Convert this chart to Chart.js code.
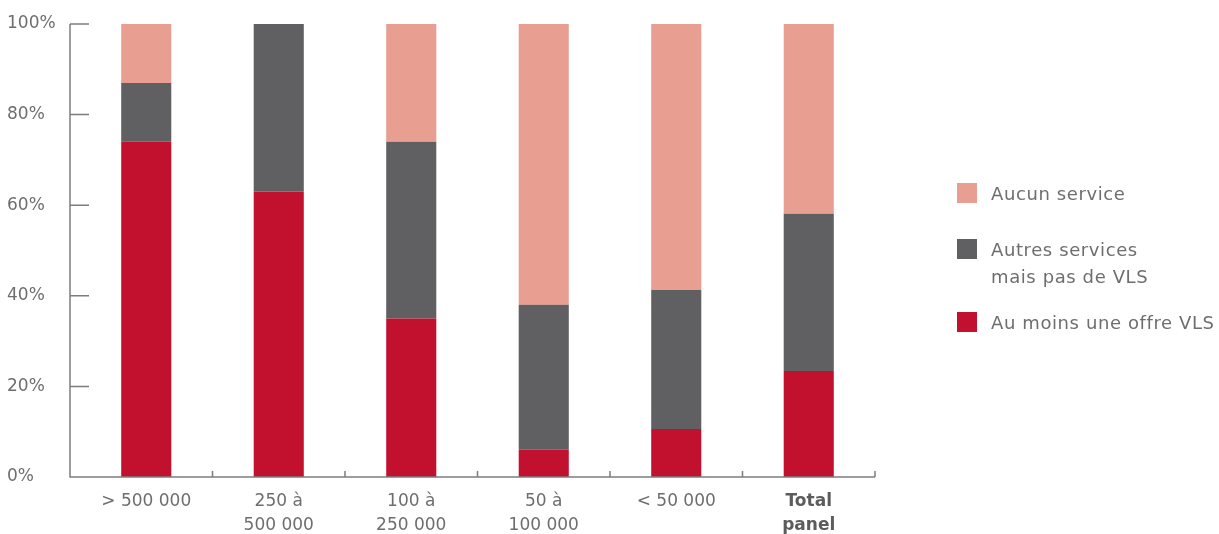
<!DOCTYPE html>
<html>
<head>
<meta charset="utf-8">
<script src="https://cdn.jsdelivr.net/npm/chart.js@4"></script>
<style>
  html, body { margin: 0; padding: 0; background: #fff; }
  #wrap { position: relative; width: 1219px; height: 534px; }
  #legend { position: absolute; left: 0; top: 0; width: 1219px; height: 534px; pointer-events: none;
            font-family: "DejaVu Sans", sans-serif; font-size: 18px; letter-spacing: 0.6px; color: #6e6e6e; }
  .item { position: absolute; left: 957px; display: flex; align-items: flex-start; }
  .sw { width: 20px; height: 20px; flex: none; }
  .tx { margin-left: 14px; line-height: 27px; white-space: nowrap; margin-top: -3px; }
</style>
</head>
<body>
<div id="wrap">
  <canvas id="c"></canvas>
  <div id="legend"></div>
</div>
<script>
const categories = [['> 500 000'], ['250 à', '500 000'], ['100 à', '250 000'], ['50 à', '100 000'], ['< 50 000'], ['Total', 'panel']];
const seriesNames = ['Au moins une offre VLS', ['Autres services', 'mais pas de VLS'], 'Aucun service'];
const vlsValues = [74, 63, 35, 6, 10.6, 23.4];
const otherValues = [13, 37, 39, 32, 30.7, 34.7];
const noneValues = [13, 0, 26, 62, 58.7, 41.9];
const yTickValues = [0, 20, 40, 60, 80, 100];
const colors = ['#C1112F', '#606062', '#E89E91'];

const TEXT = '#6e6e6e';
const AXIS = '#7d7d7d';
const FONT = '"DejaVu Sans", sans-serif';

const axesPlugin = {
  id: 'customAxes',
  afterDatasetsDraw(chart) {
    const ctx = chart.ctx, x = chart.scales.x, y = chart.scales.y, ca = chart.chartArea;
    const ax = ca.left - 10;
    const y0 = y.getPixelForValue(0);
    ctx.save();
    ctx.strokeStyle = AXIS;
    ctx.lineWidth = 1.5;
    ctx.beginPath();
    ctx.moveTo(ax, y.getPixelForValue(100));
    ctx.lineTo(ax, y0);
    ctx.lineTo(ca.right, y0);
    yTickValues.forEach(v => {
      if (v === 0) return;
      const py = y.getPixelForValue(v);
      ctx.moveTo(ax, py);
      ctx.lineTo(ax + 19, py);
    });
    for (let i = 0; i < categories.length; i++) {
      const px = i < categories.length - 1 ? (x.getPixelForValue(i) + x.getPixelForValue(i + 1)) / 2 : ca.right;
      ctx.moveTo(px, y0);
      ctx.lineTo(px, y0 - 6);
    }
    ctx.stroke();
    ctx.restore();
  }
};

const datasets = [
  { label: seriesNames[0], data: vlsValues, backgroundColor: colors[0] },
  { label: seriesNames[1], data: otherValues, backgroundColor: colors[1] },
  { label: seriesNames[2], data: noneValues, backgroundColor: colors[2] }
].map(d => Object.assign(d, { borderWidth: 0, categoryPercentage: 1, barPercentage: 0.378 }));

new Chart(document.getElementById('c'), {
  type: 'bar',
  data: { labels: categories, datasets },
  options: {
    responsive: true,
    maintainAspectRatio: false,
    animation: false,
    devicePixelRatio: 1,
    layout: { padding: { left: 7, right: 344, top: 24, bottom: 0 } },
    plugins: { legend: { display: false }, tooltip: { enabled: false } },
    scales: {
      x: {
        stacked: true,
        grid: { display: false, drawTicks: false },
        border: { display: false },
        afterFit: s => { s.height = 57; },
        ticks: {
          color: c => c.index === 5 ? '#5c5c5c' : TEXT,
          padding: 13,
          maxRotation: 0,
          autoSkip: false,
          font: c => ({ family: FONT, size: 17, lineHeight: '24px', weight: c.index === 5 ? 'bold' : 'normal' })
        }
      },
      y: {
        stacked: true,
        min: 0, max: 100,
        grid: { display: false, drawTicks: false },
        border: { display: false },
        afterFit: s => { s.width = 73; },
        afterBuildTicks: s => { s.ticks = yTickValues.map(v => ({ value: v })); },
        ticks: {
          color: TEXT,
          crossAlign: 'far',
          padding: 0,
          font: { family: FONT, size: 17 },
          callback: v => v + '%'
        }
      }
    }
  },
  plugins: [axesPlugin]
});

const legend = document.getElementById('legend');
const legendTops = [183, 239, 312];
[2, 1, 0].forEach((di, k) => {
  const item = document.createElement('div');
  item.className = 'item';
  item.style.top = legendTops[k] + 'px';
  const sw = document.createElement('div');
  sw.className = 'sw';
  sw.style.background = datasets[di].backgroundColor;
  const tx = document.createElement('div');
  tx.className = 'tx';
  const name = seriesNames[di];
  (Array.isArray(name) ? name : [name]).forEach(line => {
    const l = document.createElement('div');
    l.textContent = line;
    tx.appendChild(l);
  });
  item.appendChild(sw);
  item.appendChild(tx);
  legend.appendChild(item);
});
</script>
</body>
</html>
